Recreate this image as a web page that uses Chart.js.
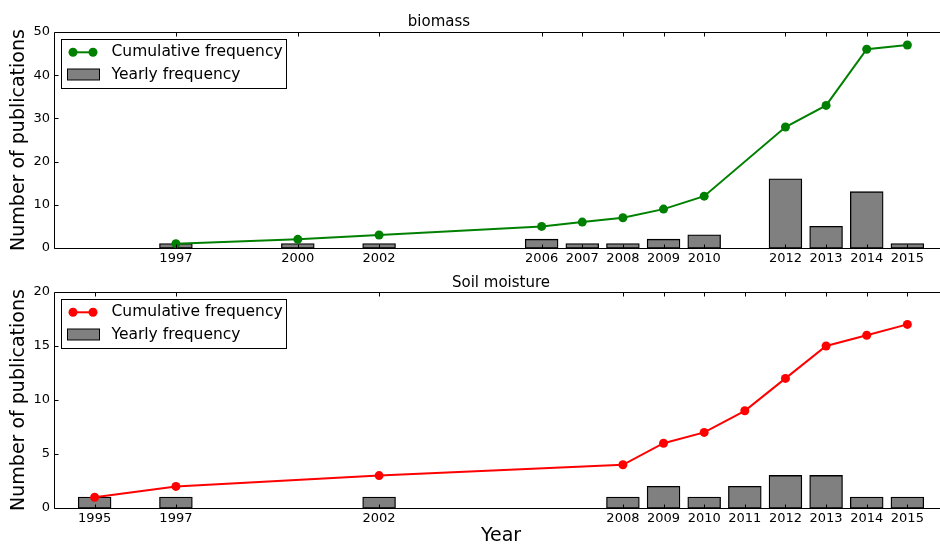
<!DOCTYPE html>
<html>
<head>
<meta charset="utf-8">
<script src="https://cdn.jsdelivr.net/npm/chart.js@4/dist/chart.umd.min.js"></script>
<style>
  html, body { margin: 0; padding: 0; background: #fff; overflow: hidden; }
  #wrap { position: relative; width: 948px; height: 546px; overflow: hidden; }
  canvas { position: absolute; left: 0; }
</style>
</head>
<body>
<div id="wrap">
  <canvas id="biomass" width="948" height="270" style="top:0"></canvas>
  <canvas id="soil" width="948" height="276" style="top:270px"></canvas>
</div>
<script>
// Publication counts per year
const biomassYears = [1997, 2000, 2002, 2006, 2007, 2008, 2009, 2010, 2012, 2013, 2014, 2015];
const biomassYearly = [1, 1, 1, 2, 1, 1, 2, 3, 16, 5, 13, 1];
const biomassCumulative = [1, 2, 3, 5, 6, 7, 9, 12, 28, 33, 46, 47];
const biomassYTicks = [0, 10, 20, 30, 40, 50];

const soilYears = [1995, 1997, 2002, 2008, 2009, 2010, 2011, 2012, 2013, 2014, 2015];
const soilYearly = [1, 1, 1, 1, 2, 1, 2, 3, 3, 1, 1];
const soilCumulative = [1, 2, 3, 4, 6, 7, 9, 12, 15, 16, 17];
const soilYTicks = [0, 5, 10, 15, 20];

const FONT = '"DejaVu Sans", "Liberation Sans", sans-serif';
const BAR_FILL = '#808080';

// Frame (left / bottom / top / right spines) with inward tick marks
const framePlugin = {
  id: 'frame',
  afterDatasetsDraw(chart) {
    const { ctx, chartArea: a, scales: { x, y } } = chart;
    const L = Math.round(a.left) + 0.5, R = Math.round(a.right) - 0.5;
    const T = Math.round(a.top) + 0.5, B = Math.round(a.bottom) + 0.5;
    ctx.save();
    ctx.strokeStyle = '#000';
    ctx.lineWidth = 1;
    ctx.beginPath();
    ctx.moveTo(L, T); ctx.lineTo(R, T); ctx.lineTo(R, B); ctx.lineTo(L, B); ctx.closePath();
    x.ticks.forEach(t => {
      const px = Math.round(x.getPixelForValue(t.value)) + 0.5;
      ctx.moveTo(px, B); ctx.lineTo(px, B - 4);
      ctx.moveTo(px, T); ctx.lineTo(px, T + 4);
    });
    y.ticks.forEach(t => {
      const py = Math.round(y.getPixelForValue(t.value)) + 0.5;
      ctx.moveTo(L, py); ctx.lineTo(L + 4, py);
      ctx.moveTo(R, py); ctx.lineTo(R - 4, py);
    });
    ctx.stroke();
    ctx.restore();
  }
};

// Boxed legend in the upper-left corner of the plot area
const boxLegendPlugin = {
  id: 'boxLegend',
  afterDatasetsDraw(chart) {
    const { ctx, chartArea: a } = chart;
    const x0 = Math.round(a.left) + 7.5, y0 = Math.round(a.top) + 7.5;
    const w = 225, h = 49;
    ctx.save();
    ctx.fillStyle = '#fff';
    ctx.strokeStyle = '#000';
    ctx.lineWidth = 1;
    ctx.fillRect(x0, y0, w, h);
    ctx.strokeRect(x0, y0, w, h);
    ctx.font = '15.5px ' + FONT;
    ctx.textBaseline = 'middle';
    ctx.textAlign = 'left';
    chart.data.datasets.forEach((ds, i) => {
      const cy = y0 + 12.8 + i * 22.3;
      if (ds.type === 'line') {
        ctx.strokeStyle = ds.borderColor;
        ctx.lineWidth = 2;
        ctx.beginPath();
        ctx.moveTo(x0 + 11.5, cy); ctx.lineTo(x0 + 31.5, cy);
        ctx.stroke();
        ctx.fillStyle = ds.borderColor;
        [x0 + 11.5, x0 + 31.5].forEach(mx => {
          ctx.beginPath(); ctx.arc(mx, cy, 4.5, 0, Math.PI * 2); ctx.fill();
        });
      } else {
        ctx.fillStyle = ds.backgroundColor;
        ctx.strokeStyle = '#000';
        ctx.lineWidth = 1;
        ctx.fillRect(x0 + 6, Math.round(cy - 5.5), 32, 11);
        ctx.strokeRect(x0 + 6, Math.round(cy - 5.5), 32, 11);
      }
      ctx.fillStyle = '#000';
      ctx.fillText(ds.label, x0 + 50, cy);
    });
    ctx.restore();
  }
};

// Panel heading
const headingPlugin = {
  id: 'heading',
  afterDraw(chart, args, opts) {
    const { ctx } = chart;
    ctx.save();
    ctx.font = '15px ' + FONT;
    ctx.fillStyle = '#000';
    ctx.textAlign = 'center';
    ctx.textBaseline = 'alphabetic';
    ctx.fillText(opts.text, opts.x, opts.y);
    ctx.restore();
  }
};

function makePanel(canvasId, cfg) {
  const tickFont = { family: FONT, size: 13 };
  return new Chart(document.getElementById(canvasId), {
    data: {
      datasets: [
        {
          type: 'line',
          label: 'Cumulative frequency',
          data: cfg.years.map((yr, i) => ({ x: yr, y: cfg.cumulative[i] })),
          borderColor: cfg.color,
          backgroundColor: cfg.color,
          borderWidth: 2,
          pointRadius: 4.5,
          pointBorderWidth: 0,
          pointBackgroundColor: cfg.color,
          tension: 0,
          clip: false
        },
        {
          type: 'bar',
          label: 'Yearly frequency',
          data: cfg.years.map((yr, i) => ({ x: yr, y: cfg.yearly[i] })),
          backgroundColor: BAR_FILL,
          borderColor: '#000',
          borderWidth: 1.3,
          borderSkipped: false,
          inflateAmount: 0.5,
          barPercentage: 0.8,
          categoryPercentage: 1.0
        }
      ]
    },
    options: {
      responsive: false,
      animation: false,
      events: [],
      layout: { autoPadding: false, padding: { top: cfg.padTop, left: 0, right: 0, bottom: 0 } },
      plugins: {
        legend: { display: false },
        tooltip: { enabled: false },
        title: { display: false },
        heading: cfg.heading
      },
      scales: {
        x: {
          type: 'linear',
          min: 1994,
          max: 2016,
          offset: false,
          grid: { display: false, drawTicks: false, offset: false },
          border: { display: false },
          afterBuildTicks: s => { s.ticks = cfg.years.map(v => ({ value: v })); },
          afterFit: s => { s.height = cfg.xAxisHeight; },
          ticks: {
            autoSkip: false,
            maxRotation: 0,
            padding: 3,
            color: '#000',
            font: tickFont,
            callback: v => String(v)
          },
          title: cfg.xTitle
            ? { display: true, text: cfg.xTitle, color: '#000',
                font: { family: FONT, size: 19, lineHeight: 1 }, padding: { top: 0, bottom: 0 } }
            : { display: false }
        },
        y: {
          type: 'linear',
          min: 0,
          max: cfg.yTicks[cfg.yTicks.length - 1],
          grid: { display: false, drawTicks: false },
          border: { display: false },
          afterBuildTicks: s => { s.ticks = cfg.yTicks.map(v => ({ value: v })); },
          afterFit: s => { s.width = 54; },
          ticks: { padding: 4, color: '#000', font: tickFont, callback: v => String(v) },
          title: {
            display: true,
            text: 'Number of publications',
            color: '#000',
            font: { family: FONT, size: 19, lineHeight: 1 },
            padding: { top: 10, bottom: 0 }
          }
        }
      }
    },
    plugins: [framePlugin, boxLegendPlugin, headingPlugin]
  });
}

makePanel('biomass', {
  years: biomassYears, yearly: biomassYearly, cumulative: biomassCumulative,
  yTicks: biomassYTicks, color: '#008000',
  padTop: 32, xAxisHeight: 22,
  heading: { text: 'biomass', x: 439, y: 26 }
});

makePanel('soil', {
  years: soilYears, yearly: soilYearly, cumulative: soilCumulative,
  yTicks: soilYTicks, color: '#ff0000',
  padTop: 22, xAxisHeight: 38, xTitle: 'Year',
  heading: { text: 'Soil moisture', x: 501, y: 17 }
});
</script>
</body>
</html>
